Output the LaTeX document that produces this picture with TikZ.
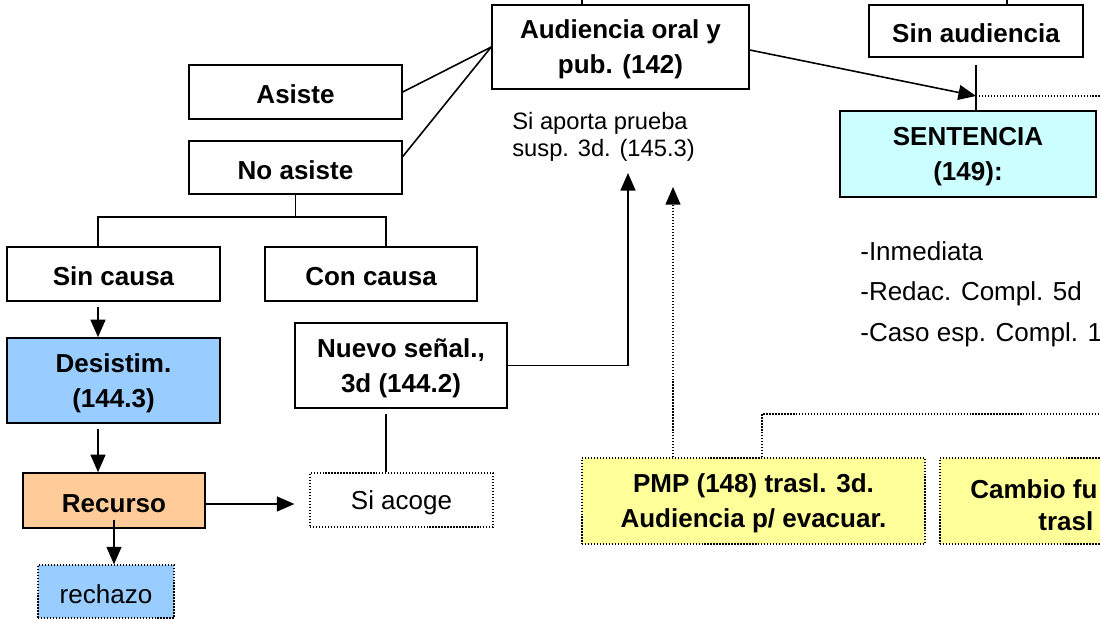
\documentclass[tikz,border=0pt]{standalone}
\usepackage{fontspec}
\setmainfont{Liberation Sans}
\usetikzlibrary{arrows.meta,
    positioning}

\definecolor{celeste}{HTML}{CCFFFF}
\definecolor{azulclaro}{HTML}{99CCFF}
\definecolor{naranja}{HTML}{FFCC99}
\definecolor{amarillo}{HTML}{FFFF99}

\tikzset{
  caja/.style={draw, line width=0.9pt, align=center, inner sep=2pt,
    font=\bfseries\fontsize{14.8}{20}\selectfont,
    execute at begin node={\rule{0pt}{13.5pt}}},
  doble/.style={text depth=-6pt},
  cajapunto/.style={caja, line width=0.7pt, densely dotted},
  linea/.style={line width=0.9pt},
  punto/.style={line width=0.7pt, densely dotted},
  flecha/.style={linea, -{Triangle[length=10pt,width=8.5pt]}},
  flechapunto/.style={punto, -{Triangle[length=10pt,width=8.5pt]}},
  texto/.style={inner sep=0pt, align=left, font=\fontsize{14.8}{23}\selectfont}
}

\begin{document}
\begin{tikzpicture}[x=0.02cm,y=-0.02cm]
                  \useasboundingbox (0,0) rectangle (1100,621);
                  \clip (0,0) rectangle (1100,621);
                  % cajas
                  \node[caja, doble, minimum width=5.14cm, minimum height=1.68cm] (aud) at (620.5,47) {Audiencia oral y\\pub. (142)};
                  \node[caja, minimum width=4.28cm, minimum height=1.04cm] (sinaud) at (976,31) {Sin audiencia};
                  \node[caja, doble, fill=celeste, minimum width=5.12cm, minimum height=1.72cm] (sent) at (968,154) {SENTENCIA\\(149):};
                  \node[caja, minimum width=4.26cm, minimum height=1.08cm] (asiste) at (295.5,92) {Asiste};
                  \node[caja, minimum width=4.26cm, minimum height=1.06cm] (noasiste) at (295.5,167.5) {No asiste};
                  \node[caja, minimum width=4.26cm, minimum height=1.08cm] (sincausa) at (113.5,274) {Sin causa};
                  \node[caja, minimum width=4.24cm, minimum height=1.08cm] (concausa) at (371,274) {Con causa};
                  \node[caja, doble, fill=azulclaro, minimum width=4.26cm, minimum height=1.7cm] (desistim) at (113.5,380.5) {Desistim.\\(144.3)};
                  \node[caja, fill=naranja, minimum width=3.64cm, minimum height=1.1cm] (recurso) at (114,500.5) {Recurso};
                  \node[cajapunto, fill=azulclaro, font=\fontsize{14.8}{20}\selectfont, minimum width=2.72cm, minimum height=1.06cm] (rechazo) at (106,591.5) {rechazo};
                  \node[caja, doble, minimum width=4.24cm, minimum height=1.7cm] (nuevo) at (401,365.5) {Nuevo señal.,\\3d (144.2)};
                  \node[cajapunto, font=\fontsize{14.8}{20}\selectfont, minimum width=3.66cm, minimum height=1.08cm] (siacoge) at (401.5,500) {Si acoge};
                  \node[cajapunto, doble, fill=amarillo, minimum width=6.86cm, minimum height=1.72cm] (pmp) at (753.5,501) {PMP (148) trasl. 3d.\\Audiencia p/ evacuar.};
                  \node[cajapunto, fill=amarillo, minimum width=6.86cm, minimum height=1.72cm] (cambio) at (1111.5,501) {};
                  \node[texto, anchor=west, font=\bfseries\fontsize{14.8}{20}\selectfont] (cambio1) at (970,489) {Cambio fu};
                  \node[texto, anchor=west, font=\bfseries\fontsize{14.8}{20}\selectfont] (cambio2) at (1038,521) {trasl};
                  % textos sueltos
                  \node[texto, anchor=west, font=\fontsize{13.5}{15.4}\selectfont] (nota) at (512,137) {Si aporta prueba\\susp. 3d. (145.3)};
                  \node[texto, anchor=west] (plazos) at (860,294) {-Inmediata\\-Redac. Compl. 5d\\-Caso esp. Compl. 1};
                  % puntos libres
                  \coordinate (arriba1) at (582,0);
                  \coordinate (arriba2) at (1007,0);
                  \coordinate (union) at (976,96);
                  \coordinate (borde1) at (1100,96);
                  \coordinate (borde2) at (1100,414);
                  \coordinate (prueba1) at (628,173);
                  \coordinate (prueba2) at (673,187);
                  \path (noasiste.south) ++(0,22) coordinate (rama);
                  % conectores
                  \draw[linea] (arriba1 |- aud.north) -- (arriba1);
                  \draw[linea] (arriba2 |- sinaud.north) -- (arriba2);
                  \draw[flecha] ([yshift=-0.06cm]aud.east) -- (union);
                  \draw[linea, shorten <=4pt] (sinaud.south) -- (sinaud.south |- sent.north);
                  \draw[punto] (union) -- (borde1);
                  \draw[linea] (asiste.east) -- (aud.west);
                  \draw[linea] ([yshift=0.22cm]noasiste.east) -- (aud.west);
                  \draw[linea] (noasiste.south) -- (rama);
                  \draw[linea] ([xshift=-0.31cm]sincausa.north) |- (rama) -| ([xshift=0.3cm]concausa.north);
                  \draw[flecha, shorten <=3pt] ([xshift=-0.31cm]sincausa.south) -- ([xshift=-0.31cm]desistim.north);
                  \draw[flecha, shorten <=3pt] ([xshift=-0.31cm]desistim.south) -- ([xshift=-0.31cm]desistim.south |- recurso.north);
                  \draw[flecha] ([yshift=0.18cm]recurso.south) -- (recurso.south |- rechazo.north);
                  \draw[flecha, shorten >=0.3cm] ([yshift=-0.07cm]recurso.east) -- ([yshift=-0.07cm]recurso.east -| siacoge.west);
                  \draw[linea, shorten <=3pt] ([xshift=-0.3cm]nuevo.south) -- ([xshift=-0.3cm]nuevo.south |- siacoge.north);
                  \draw[flecha] (nuevo.east) -| (prueba1);
                  \draw[flechapunto] (pmp.north -| prueba2) -- (prueba2);
                  \draw[punto] ([xshift=0.17cm]pmp.north) |- (borde2);
              \end{tikzpicture}
\end{document}
